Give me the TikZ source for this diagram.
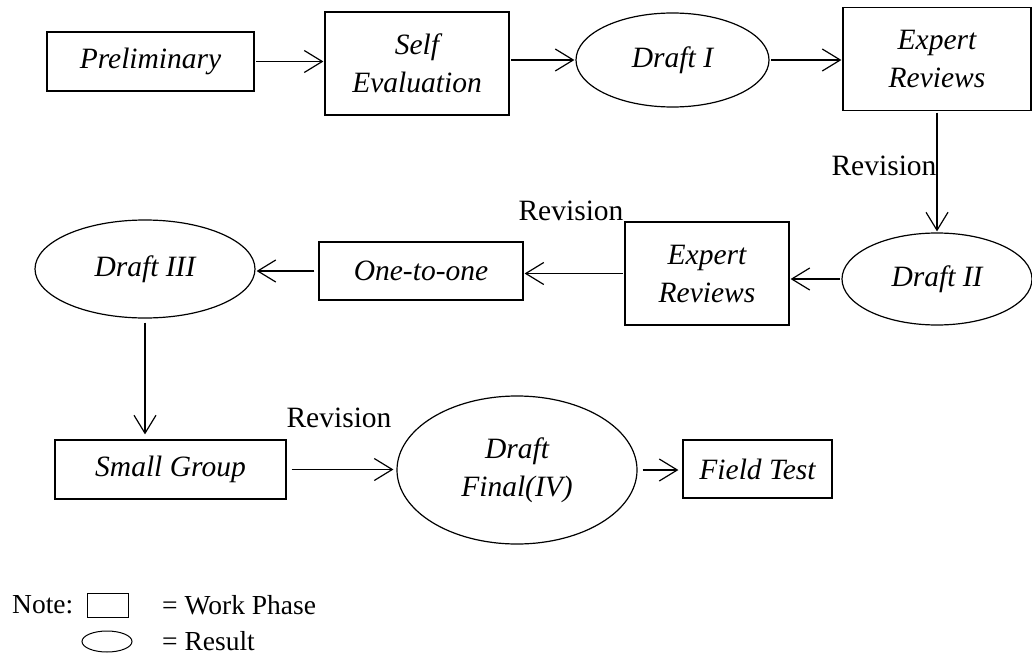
\documentclass[tikz,border=0pt]{standalone}
\usepackage{fontspec}
\setmainfont{Liberation Serif}
\usetikzlibrary{shapes.geometric,arrows.meta}
\tikzset{
  base/.style={draw, line width=1.2pt, font=\fontsize{29.5}{38}\selectfont\itshape, align=center, inner sep=0pt},
  phase/.style={base, rectangle},
  result/.style={base, ellipse},
  arr/.style={line width=1.2pt, -{Straight Barb[length=18pt,width=22pt,line width=1.2pt]}, shorten <=1.5pt, shorten >=1pt},
  lbl/.style={font=\fontsize{29.5}{34}\selectfont, inner sep=0pt},
  notetext/.style={font=\fontsize{27.5}{32}\selectfont, inner sep=0pt, anchor=west},
  legend/.style={draw, line width=1pt, inner sep=0pt}
}
\begin{document}
\begin{tikzpicture}[x=1pt,y=-1pt]
\useasboundingbox (0,0) rectangle (1032,655);
% nodes
\node[phase, minimum width=207pt, minimum height=59pt] (prelim) at (150.5,61.5) {Preliminary};
\node[phase, minimum width=184pt, minimum height=103pt] (self) at (417,63.5) {Self\\Evaluation};
\node[result, minimum width=193pt, minimum height=94pt] (d1) at (672.5,60) {Draft I};
\node[phase, minimum width=188pt, minimum height=103pt] (er1) at (937,59) {Expert\\Reviews};
\node[result, minimum width=190pt, minimum height=92pt] (d2) at (937,279) {Draft II};
\node[phase, minimum width=164pt, minimum height=103pt] (er2) at (707,273.5) {Expert\\Reviews};
\node[phase, minimum width=204pt, minimum height=58pt] (one) at (421,271) {One-to-one};
\node[result, minimum width=220pt, minimum height=98pt] (d3) at (145,269) {Draft III};
\node[phase, minimum width=231pt, minimum height=59pt] (sg) at (170.5,469.5) {Small Group};
\node[result, minimum width=240pt, minimum height=148pt] (df) at (517,470) {Draft\\Final(IV)};
\node[phase, minimum width=149pt, minimum height=58pt] (ft) at (757.5,469) {Field Test};
% labels
\node[lbl] (rev1) at (884,166) {Revision};
\node[lbl] (rev2) at (571,211) {Revision};
\node[lbl] (rev3) at (339,418) {Revision};
% connectors
\draw[arr] (prelim.east) -- (prelim.east -| self.west);
\draw[arr] (self.east |- d1.west) -- (d1.west);
\draw[arr] (d1.east) -- (d1.east -| er1.west);
\draw[arr] (er1.south) -- (d2.north);
\draw[arr] (d2.west) -- (d2.west -| er2.east);
\draw[arr] (er2.west) -- (er2.west -| one.east);
\draw[arr, shorten <=4pt] (one.west) -- (one.west -| d3.east);
\draw[arr, shorten <=4pt, shorten >=5pt] (d3.south) -- (d3.south |- sg.north);
\draw[arr, shorten <=5pt, shorten >=3pt] (sg.east) -- (sg.east -| df.west);
\draw[arr, shorten <=5pt, shorten >=4pt] (df.east) -- (df.east -| ft.west);
% legend
\node[notetext] (note) at (12,605) {Note:};
\node[legend, rectangle, minimum width=41pt, minimum height=24pt] (lrect) at (107.5,605) {};
\node[notetext] (lwork) at (162,605) {= Work Phase};
\node[legend, ellipse, minimum width=50pt, minimum height=21pt] (lell) at (107,641.5) {};
\node[notetext] (lres) at (162,641) {= Result};
\end{tikzpicture}
\end{document}
